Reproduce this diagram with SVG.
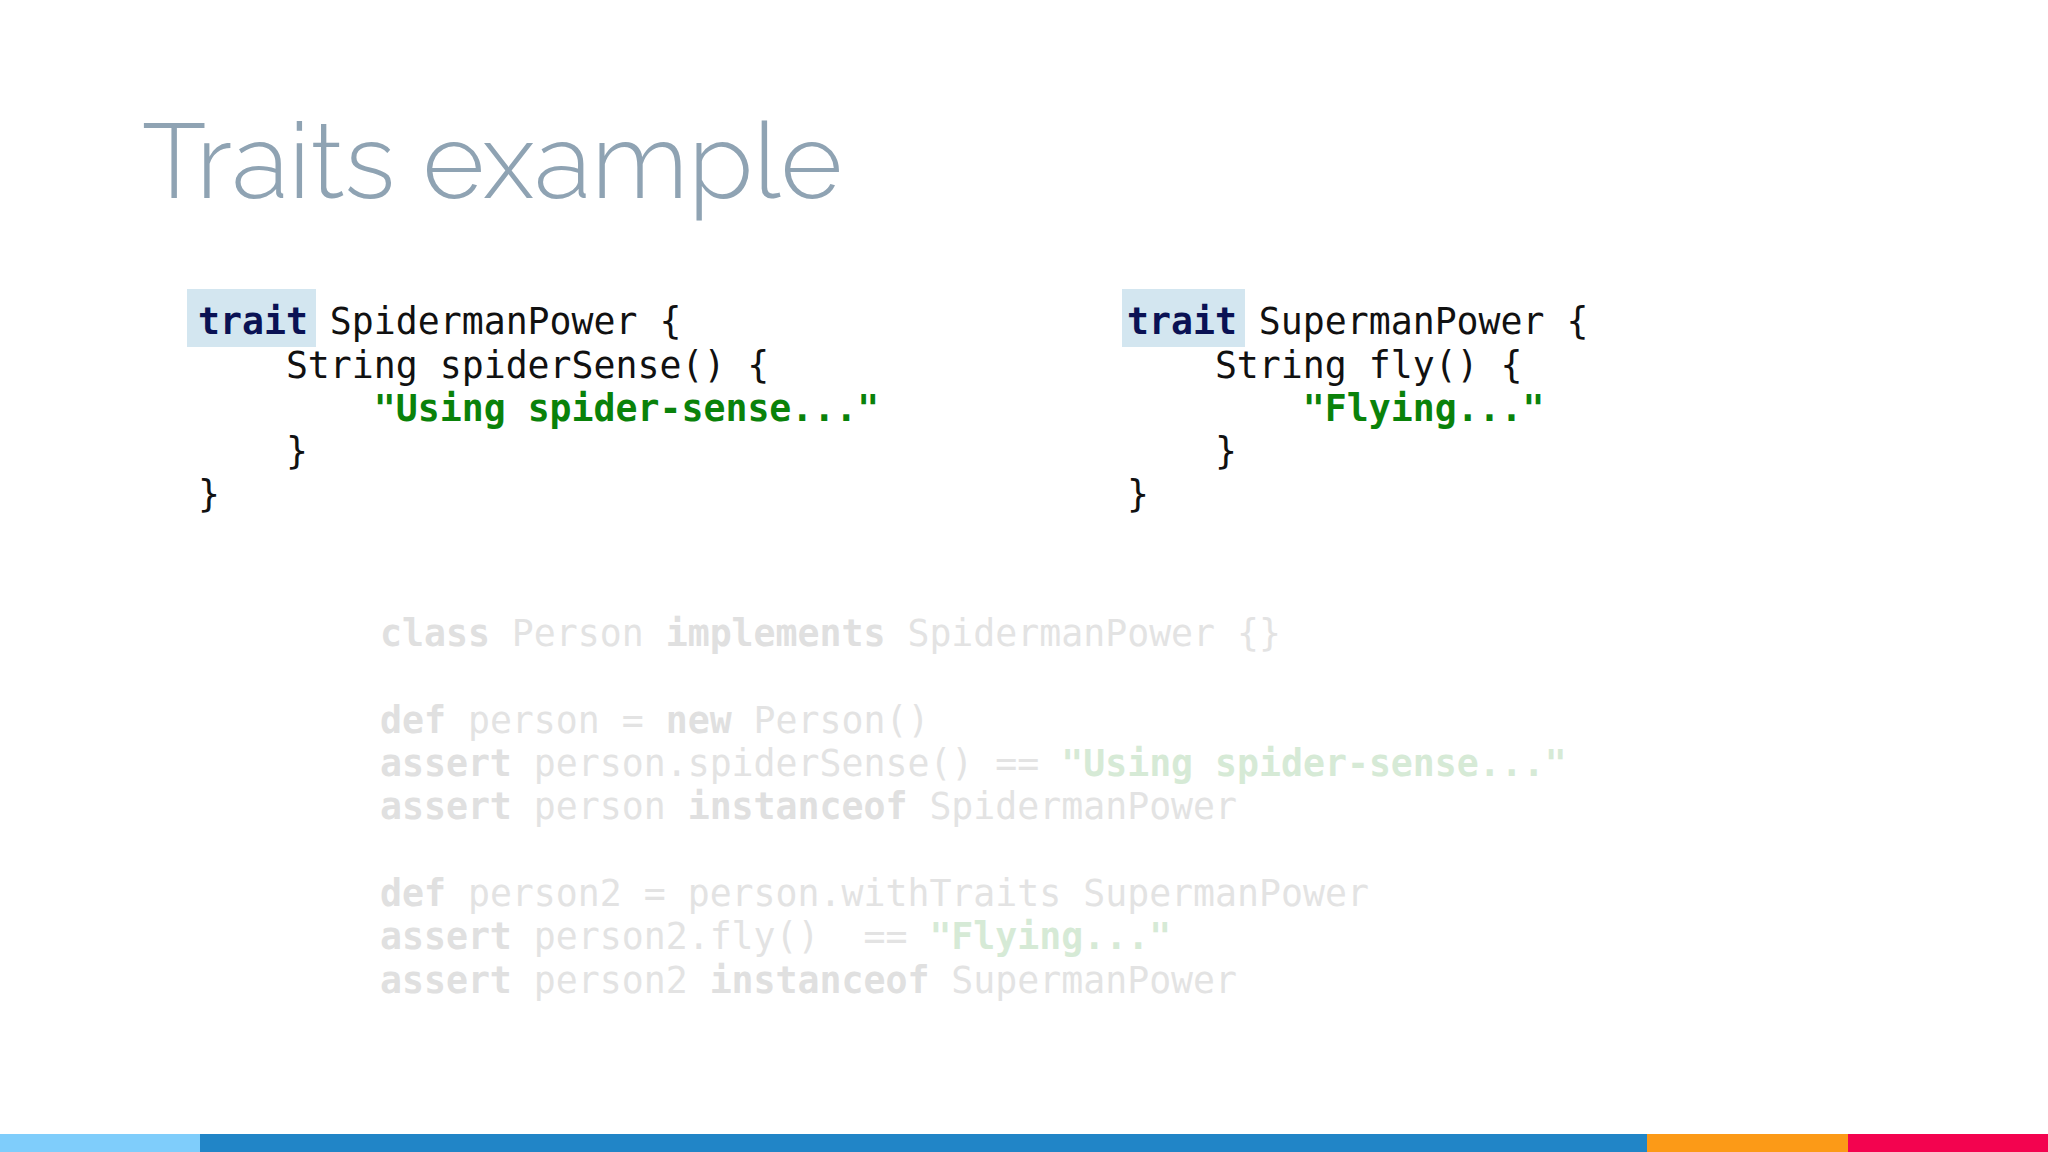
<svg xmlns="http://www.w3.org/2000/svg" width="2048" height="1152" viewBox="0 0 2048 1152">
<style>
.c{font-family:"DejaVu Sans Mono",monospace;font-size:36.5px;fill:#111;white-space:pre}
.k{font-weight:bold;fill:#0a1254}
.s{font-weight:bold;fill:#0a820a}
.f{fill:#e3e3e3}
.fk{font-weight:bold;fill:#e0e0e0}
.fs{font-weight:bold;fill:#d6ead6}
</style>
<rect width="2048" height="1152" fill="#ffffff"/>
<text x="142" y="198" font-family="Raleway, Lato, sans-serif" font-weight="300" font-size="106" fill="#8fa3b3">Traits example</text>
<g id="spiderman">
<rect x="187" y="289" width="129" height="58" fill="#d3e6f0"/>
<text class="c" xml:space="preserve"><tspan x="198" y="334"><tspan class="k">trait</tspan> SpidermanPower {</tspan><tspan x="198" y="378">    String spiderSense() {</tspan><tspan x="198" y="421">        <tspan class="s">"Using spider-sense..."</tspan></tspan><tspan x="198" y="464">    }</tspan><tspan x="198" y="507">}</tspan></text>
</g>
<g id="superman">
<rect x="1122" y="289" width="123" height="58" fill="#d3e6f0"/>
<text class="c" xml:space="preserve"><tspan x="1127" y="334"><tspan class="k">trait</tspan> SupermanPower {</tspan><tspan x="1127" y="378">    String fly() {</tspan><tspan x="1127" y="421">        <tspan class="s">"Flying..."</tspan></tspan><tspan x="1127" y="464">    }</tspan><tspan x="1127" y="507">}</tspan></text>
</g>
<g id="usage">
<text class="c f" xml:space="preserve"><tspan x="380" y="646"><tspan class="fk">class</tspan> Person <tspan class="fk">implements</tspan> SpidermanPower {}</tspan><tspan x="380" y="733"><tspan class="fk">def</tspan> person = <tspan class="fk">new</tspan> Person()</tspan><tspan x="380" y="776"><tspan class="fk">assert</tspan> person.spiderSense() == <tspan class="fs">"Using spider-sense..."</tspan></tspan><tspan x="380" y="819"><tspan class="fk">assert</tspan> person <tspan class="fk">instanceof</tspan> SpidermanPower</tspan><tspan x="380" y="906"><tspan class="fk">def</tspan> person2 = person.withTraits SupermanPower</tspan><tspan x="380" y="949"><tspan class="fk">assert</tspan> person2.fly()  == <tspan class="fs">"Flying..."</tspan></tspan><tspan x="380" y="993"><tspan class="fk">assert</tspan> person2 <tspan class="fk">instanceof</tspan> SupermanPower</tspan></text>
</g>
<g id="bar">
<rect x="0" y="1134" width="200" height="18" fill="#7fcdfb"/>
<rect x="200" y="1134" width="1447" height="18" fill="#2185c7"/>
<rect x="1647" y="1134" width="201" height="18" fill="#fc9a17"/>
<rect x="1848" y="1134" width="200" height="18" fill="#f3034f"/>
</g>
</svg>
